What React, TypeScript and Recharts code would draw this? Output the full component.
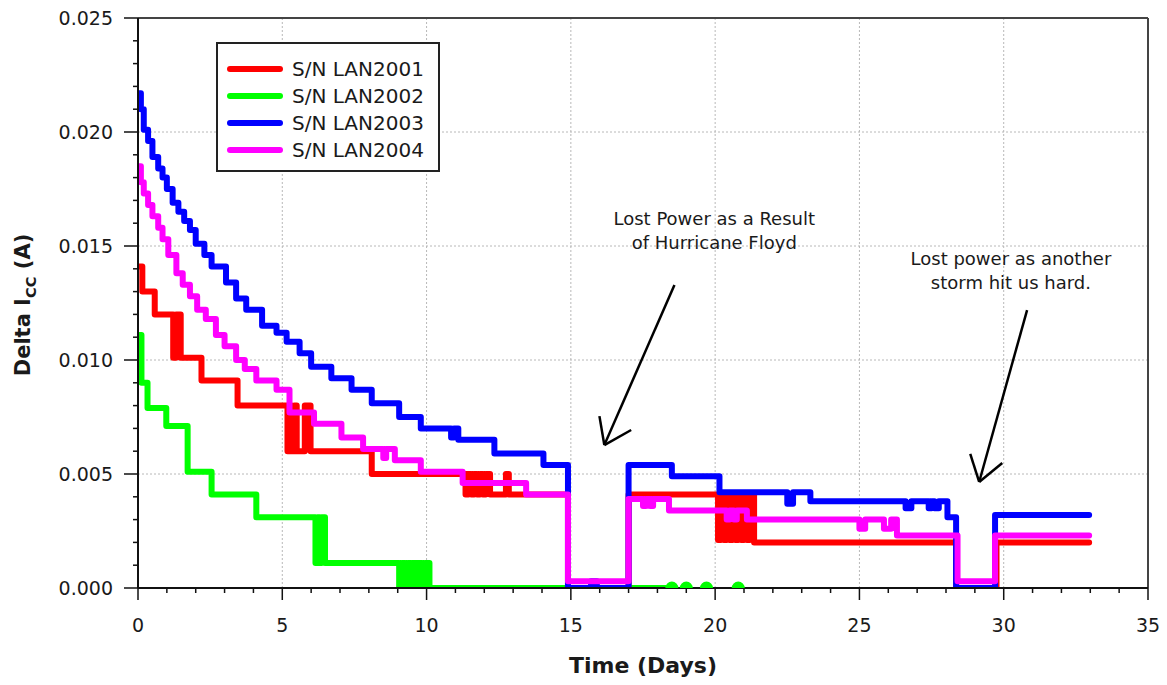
import React from 'react';
import { ComposedChart, Line, XAxis, YAxis, ReferenceLine, ReferenceDot } from 'recharts';

// ---------- data (days, amps) ----------
const lan2001: [number, number][] = [
  [0, 0.0141], [0.15, 0.013], [0.58, 0.012], [1.22, 0.0101], [1.32, 0.012], [1.48, 0.0101],
  [2.2, 0.0091], [3.45, 0.008], [5.18, 0.006], [5.25, 0.008], [5.32, 0.006], [5.42, 0.008],
  [5.5, 0.006], [5.78, 0.008], [5.98, 0.006], [8.1, 0.005], [11.35, 0.0041], [11.45, 0.005],
  [11.55, 0.0041], [11.65, 0.005], [11.75, 0.0041], [11.85, 0.005], [11.95, 0.0041],
  [12.05, 0.005], [12.2, 0.0041], [12.75, 0.005], [12.85, 0.0041], [14.9, 0.0],
  [17.0, 0.0041], [20.1, 0.0021], [20.2, 0.0041], [20.3, 0.0021], [20.4, 0.0041],
  [20.5, 0.0021], [20.6, 0.0041], [20.7, 0.0021], [20.8, 0.0041], [20.9, 0.0021],
  [21.0, 0.0041], [21.1, 0.0021], [21.2, 0.0041], [21.35, 0.002], [28.35, 0.0],
  [29.75, 0.002], [32.96, 0.002],
];

const lan2002: [number, number][] = [
  [0, 0.0111], [0.12, 0.009], [0.33, 0.0079], [0.98, 0.0071], [1.72, 0.0051], [2.55, 0.0041],
  [4.1, 0.0031], [6.15, 0.0011], [6.22, 0.0031], [6.3, 0.0011], [6.36, 0.0031], [6.48, 0.0011],
  [9.05, 0.0], [9.15, 0.0011], [9.25, 0.0], [9.35, 0.0011], [9.45, 0.0], [9.55, 0.0011],
  [9.65, 0.0], [9.75, 0.0011], [9.85, 0.0], [9.95, 0.0011], [10.1, 0.0], [18.3, 0.0],
];

const lan2002Dots: [number, number][] = [
  [18.5, 0.0], [19.0, 0.0], [19.7, 0.0], [20.8, 0.0],
];

const lan2003: [number, number][] = [
  [0, 0.0217], [0.1, 0.021], [0.2, 0.0201], [0.35, 0.0196], [0.5, 0.0189], [0.7, 0.0184],
  [0.85, 0.018], [1.0, 0.0175], [1.2, 0.0169], [1.4, 0.0165], [1.6, 0.0161], [1.8, 0.0157],
  [2.0, 0.0151], [2.3, 0.0146], [2.55, 0.0141], [3.05, 0.0134], [3.4, 0.0127], [3.75, 0.0122],
  [4.3, 0.0115], [4.8, 0.0112], [5.15, 0.0108], [5.6, 0.0103], [6.0, 0.0097], [6.7, 0.0092],
  [7.4, 0.0087], [8.1, 0.0081], [9.05, 0.0075], [9.8, 0.007], [10.85, 0.0066], [10.95, 0.007],
  [11.1, 0.0065], [12.35, 0.0059], [14.05, 0.0054], [14.9, 0.0], [15.7, 0.0003], [15.9, 0.0],
  [17.0, 0.0054], [18.5, 0.0049], [20.15, 0.0042], [22.5, 0.0037], [22.7, 0.0042],
  [23.3, 0.0038], [26.6, 0.0035], [26.8, 0.0038], [27.4, 0.0035], [27.5, 0.0038],
  [27.6, 0.0035], [27.75, 0.0038], [28.05, 0.0031], [28.35, 0.0], [29.7, 0.0032],
  [32.96, 0.0032],
];

const lan2004: [number, number][] = [
  [0, 0.0185], [0.1, 0.0178], [0.2, 0.0173], [0.35, 0.0168], [0.5, 0.0163], [0.7, 0.0158],
  [0.85, 0.0153], [1.05, 0.0146], [1.33, 0.0138], [1.55, 0.0133], [1.8, 0.0128],
  [2.05, 0.0122], [2.35, 0.0118], [2.7, 0.0111], [3.0, 0.0106], [3.4, 0.01], [3.7, 0.0096],
  [4.1, 0.0091], [4.8, 0.0087], [5.25, 0.0077], [6.1, 0.0072], [7.05, 0.0066], [7.8, 0.0061],
  [8.5, 0.0057], [8.6, 0.0061], [8.9, 0.0056], [9.8, 0.0051], [11.25, 0.0046],
  [13.45, 0.0041], [14.9, 0.0003], [17.0, 0.0039], [17.5, 0.0036], [17.6, 0.0039],
  [17.75, 0.0036], [17.85, 0.0039], [18.4, 0.0034], [20.4, 0.003], [20.5, 0.0034],
  [20.65, 0.003], [20.75, 0.0034], [21.1, 0.003], [25.0, 0.0026], [25.2, 0.003],
  [25.85, 0.0026], [26.1, 0.003], [26.3, 0.0023], [28.4, 0.0003], [29.7, 0.0023],
  [32.96, 0.0023],
];

const seriesNames = ['S/N LAN2001', 'S/N LAN2002', 'S/N LAN2003', 'S/N LAN2004'];

const xTicks = [0, 1, 2, 3, 4, 5, 6, 7, 8, 9, 10, 11, 12, 13, 14, 15, 16, 17, 18, 19, 20, 21, 22,
  23, 24, 25, 26, 27, 28, 29, 30, 31, 32, 33, 34, 35];
const yTicks = [0, 0.001, 0.002, 0.003, 0.004, 0.005, 0.006, 0.007, 0.008, 0.009, 0.01, 0.011,
  0.012, 0.013, 0.014, 0.015, 0.016, 0.017, 0.018, 0.019, 0.02, 0.021, 0.022, 0.023, 0.024, 0.025];
const xGrid = [5, 10, 15, 20, 25, 30];
const yGrid = [0.005, 0.01, 0.015, 0.02];

const annotation1Lines = ['Lost Power as a Result', 'of Hurricane Floyd'];
const annotation1Pos = { x: 19.97, y: 0.0162 };
const annotation2Lines = ['Lost power as another', 'storm hit us hard.'];
const annotation2Pos = { x: 30.25, y: 0.01447 };

const arrow1 = {
  from: { x: 18.59, y: 0.01329 }, tip: { x: 16.16, y: 0.00627 },
  barbA: { x: 15.99, y: 0.00754 }, barbB: { x: 17.09, y: 0.00693 },
};
const arrow2 = {
  from: { x: 30.81, y: 0.01219 }, tip: { x: 29.15, y: 0.00465 },
  barbA: { x: 28.84, y: 0.00588 }, barbB: { x: 29.95, y: 0.00548 },
};

// ---------- styling ----------
const FONT = '"DejaVu Sans", "Liberation Sans", Arial, sans-serif';
const TEXT = '#1a1a1a';
const COLORS = ['#ff0000', '#00ff00', '#0000ff', '#ff00ff'];

const toPts = (arr: [number, number][]) => arr.map(([x, y]) => ({ x, y }));

const XTick = (props: any) => {
  const { x, y, payload } = props;
  const v = payload.value as number;
  const major = v % 5 === 0;
  return (
    <g>
      <line x1={x} x2={x} y1={y} y2={y + (major ? 12 : 5)} stroke="#111" strokeWidth={1.5} />
      {major && (
        <text x={x} y={y + 37} dy="0.36em" textAnchor="middle" fontFamily={FONT} fontSize={19} fill={TEXT}>
          {v}
        </text>
      )}
    </g>
  );
};

const YTick = (props: any) => {
  const { x, y, payload } = props;
  const v = payload.value as number;
  const major = Math.round(v * 1000) % 5 === 0;
  return (
    <g>
      <line x1={x - (major ? 14 : 5)} x2={x} y1={y} y2={y} stroke="#111" strokeWidth={1.5} />
      {major && (
        <text x={x - 25} y={y} dy="0.36em" textAnchor="end" fontFamily={FONT} fontSize={19} fill={TEXT}>
          {v.toFixed(3)}
        </text>
      )}
    </g>
  );
};

const multiLineLabel = (lines: string[]) => (props: any) => {
  const vb = props.viewBox || {};
  const cx = (vb.x ?? 0) + (vb.width ?? 0) / 2;
  const cy = (vb.y ?? 0) + (vb.height ?? 0) / 2;
  return (
    <text x={cx} y={cy} textAnchor="middle" fontFamily={FONT} fontSize={18} fill={TEXT}>
      {lines.map((l, i) => (
        <tspan key={i} x={cx} dy={i === 0 ? '0.36em' : 24}>{l}</tspan>
      ))}
    </text>
  );
};

const arrowSegments = (a: typeof arrow1) => [
  [a.from, a.tip],
  [a.barbA, a.tip],
  [a.barbB, a.tip],
];

export default function App() {
  const W = 1151;
  const H = 669;
  const lineProps = {
    type: 'stepAfter' as const,
    dataKey: 'y',
    dot: false,
    activeDot: false,
    isAnimationActive: false,
    strokeWidth: 6,
    strokeLinecap: 'round' as const,
    strokeLinejoin: 'round' as const,
  };
  return (
    <div style={{ position: 'relative', width: W, height: H, background: '#fff' }}>
      <ComposedChart width={W} height={H} margin={{ top: 10, right: 11, left: 60, bottom: 39 }}>
        <XAxis
          dataKey="x"
          type="number"
          domain={[0, 35]}
          ticks={xTicks}
          interval={0}
          tick={<XTick />}
          tickSize={0}
          tickMargin={0}
          tickLine={false}
          axisLine={{ stroke: '#111', strokeWidth: 2 }}
          height={50}
          allowDataOverflow
        />
        <YAxis
          type="number"
          domain={[0, 0.025]}
          ticks={yTicks}
          interval={0}
          tick={<YTick />}
          tickSize={0}
          tickMargin={0}
          tickLine={false}
          axisLine={{ stroke: '#111', strokeWidth: 2 }}
          width={70}
          allowDataOverflow
        />
        {xGrid.map((g) => (
          <ReferenceLine key={'gx' + g} x={g} stroke="#b8b8b8" strokeDasharray="2 2" strokeWidth={1} />
        ))}
        {yGrid.map((g) => (
          <ReferenceLine key={'gy' + g} y={g} stroke="#b8b8b8" strokeDasharray="2 2" strokeWidth={1} />
        ))}
        <ReferenceLine y={0.025} stroke="#444" strokeWidth={2} />
        <ReferenceLine x={35} stroke="#444" strokeWidth={2} />

        <Line {...lineProps} data={toPts(lan2002)} stroke={COLORS[1]} name={seriesNames[1]} />
        <Line
          {...lineProps}
          data={toPts(lan2002Dots)}
          stroke="none"
          dot={{ r: 3.5, fill: COLORS[1], stroke: COLORS[1] }}
          name={seriesNames[1] + ' dots'}
        />
        <Line {...lineProps} data={toPts(lan2001)} stroke={COLORS[0]} name={seriesNames[0]} />
        <Line {...lineProps} data={toPts(lan2003)} stroke={COLORS[2]} name={seriesNames[2]} />
        <Line {...lineProps} data={toPts(lan2004)} stroke={COLORS[3]} name={seriesNames[3]} />

        {[...arrowSegments(arrow1), ...arrowSegments(arrow2)].map((seg, i) => (
          <ReferenceLine key={'ar' + i} segment={seg as any} stroke="#000" strokeWidth={2.5} />
        ))}
        <ReferenceDot x={annotation1Pos.x} y={annotation1Pos.y} r={0} stroke="none" fill="none"
          label={multiLineLabel(annotation1Lines)} />
        <ReferenceDot x={annotation2Pos.x} y={annotation2Pos.y} r={0} stroke="none" fill="none"
          label={multiLineLabel(annotation2Lines)} />
      </ComposedChart>

      {/* Legend */}
      <div
        style={{
          position: 'absolute', left: 208, top: 34, width: 224, height: 130,
          border: '2px solid #222', boxSizing: 'border-box', background: '#fff',
          fontFamily: FONT, fontSize: 20, color: TEXT,
        }}
      >
        {seriesNames.map((n, i) => (
          <div key={n} style={{ position: 'absolute', left: 8, top: 12 + i * 27, height: 26, display: 'flex', alignItems: 'center' }}>
            <svg width={58} height={10} style={{ display: 'block' }}>
              <line x1={4} x2={54} y1={5} y2={5} stroke={COLORS[i]} strokeWidth={6} strokeLinecap="round" />
            </svg>
            <span style={{ marginLeft: 8, whiteSpace: 'nowrap' }}>{n}</span>
          </div>
        ))}
      </div>

      {/* Y axis title */}
      <div
        style={{
          position: 'absolute', left: 17, top: 297, transform: 'translate(-50%, -50%) rotate(-90deg)',
          fontFamily: FONT, fontWeight: 'bold', fontSize: 21, color: TEXT, whiteSpace: 'nowrap',
        }}
      >
        Delta I<sub style={{ fontSize: '0.7em' }}>CC</sub> (A)
      </div>

      {/* X axis title */}
      <div
        style={{
          position: 'absolute', left: 635, top: 657, transform: 'translate(-50%, -50%)',
          fontFamily: FONT, fontWeight: 'bold', fontSize: 22, color: TEXT, whiteSpace: 'nowrap',
        }}
      >
        Time (Days)
      </div>
    </div>
  );
}
